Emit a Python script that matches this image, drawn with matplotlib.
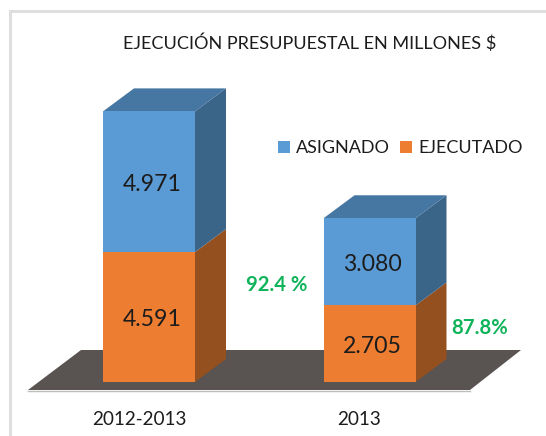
import matplotlib
matplotlib.use("Agg")
import matplotlib.pyplot as plt
from matplotlib.patches import Polygon, Patch
from matplotlib.lines import Line2D

categories = ["2012-2013", "2013"]
ejecutado = [4591, 2705]
asignado = [4971, 3080]
ejecutado_labels = ["4.591", "2.705"]
asignado_labels = ["4.971", "3.080"]
percent_labels = ["92.4 %", "87.8%"]
series_names = ["ASIGNADO", "EJECUTADO"]
title = "EJECUCIÓN PRESUPUESTAL EN MILLONES $"

W, H = 546, 436
BLUE, BLUE_TOP, BLUE_SIDE = "#5B9BD5", "#4676A2", "#3A6488"
ORANGE, ORANGE_SIDE = "#ED7D31", "#95501F"
FLOOR = "#595452"
GREEN = "#0FB45A"
TEXT = "#1c1c1c"
plt.rcParams["font.family"] = ["Lato", "DejaVu Sans"]

PX_Y = 0.0283      # px per value unit
PX_X = 220.5       # px per category step
X0, Y0 = 149.0, 382.0
fig = plt.figure(figsize=(W / 100, H / 100), dpi=100, facecolor="white")
ax = fig.add_axes([0, 0, 1, 1])
ax.set_xlim((0 - X0) / PX_X, (W - X0) / PX_X)
ax.set_ylim((Y0 - H) / PX_Y, Y0 / PX_Y)
ax.axis("off")

def dx(p): return p / PX_X
def dy(p): return p / PX_Y
def xp(p): return (p - X0) / PX_X
def yp(p): return (Y0 - p) / PX_Y

# frame
ax.add_line(Line2D([xp(10), xp(10), xp(546)], [yp(436), yp(11), yp(11)],
                   color="#DEDEDE", lw=2.2, solid_joinstyle="miter"))
# floor
ax.add_patch(Polygon([(xp(28), yp(390)), (xp(81), yp(350)), (xp(521), yp(350)), (xp(470), yp(390))],
                     closed=True, fc=FLOOR, ec="none", zorder=1))
ax.add_line(Line2D([xp(28), xp(470)], [yp(390.5), yp(390.5)], color="#BDBDBD", lw=1, zorder=1))

width = 92 / PX_X
ddx, ddy = dx(31), dy(23)
xs = range(len(categories))
tops = [e + a for e, a in zip(ejecutado, asignado)]
for x, e, t in zip(xs, ejecutado, tops):
    r = x + width / 2
    l = x - width / 2
    ax.add_patch(Polygon([(r, 0), (r + ddx, ddy), (r + ddx, e + ddy), (r, e)], fc=ORANGE_SIDE, ec="none", zorder=2))
    ax.add_patch(Polygon([(r, e), (r + ddx, e + ddy), (r + ddx, t + ddy), (r, t)], fc=BLUE_SIDE, ec="none", zorder=2))
    ax.add_patch(Polygon([(l, t), (l + ddx, t + ddy), (r + ddx, t + ddy), (r, t)], fc=BLUE_TOP, ec="none", zorder=2))
ax.bar(list(xs), ejecutado, width=width, color=ORANGE, zorder=3)
ax.bar(list(xs), asignado, width=width, bottom=ejecutado, color=BLUE, zorder=3)

for x, e, a, le, la in zip(xs, ejecutado, asignado, ejecutado_labels, asignado_labels):
    ax.text(x + dx(3), e * 0.5 - dy(2.5), le, ha="center", va="center", fontsize=16.6, color=TEXT, zorder=4)
    ax.text(x + dx(3), e + a * 0.5 - dy(2.5), la, ha="center", va="center", fontsize=16.6, color=TEXT, zorder=4)

for x, lab, (px, py) in zip(xs, categories, [(139, 419), (359, 419)]):
    ax.text(xp(px), yp(py), lab, ha="center", va="center", fontsize=13.6, color=TEXT)

for lab, (px, py) in zip(percent_labels, [(277, 285), (480, 328)]):
    ax.text(xp(px), yp(py), lab, ha="center", va="center", fontsize=14.6, fontweight="bold", color=GREEN)

ax.text(xp(310), yp(43), title, ha="center", va="center", fontsize=13.1, color=TEXT)

leg = ax.legend(handles=[Patch(fc=BLUE, label=series_names[0]), Patch(fc=ORANGE, label=series_names[1])],
                ncol=2, frameon=False, loc="center", bbox_to_anchor=(400.5 / W, 1 - 148 / H),
                fontsize=13, handlelength=0.64, handleheight=0.64, handletextpad=0.35, columnspacing=0.55,
                labelcolor=TEXT)

fig.savefig("out.png", dpi=100, facecolor="white")
